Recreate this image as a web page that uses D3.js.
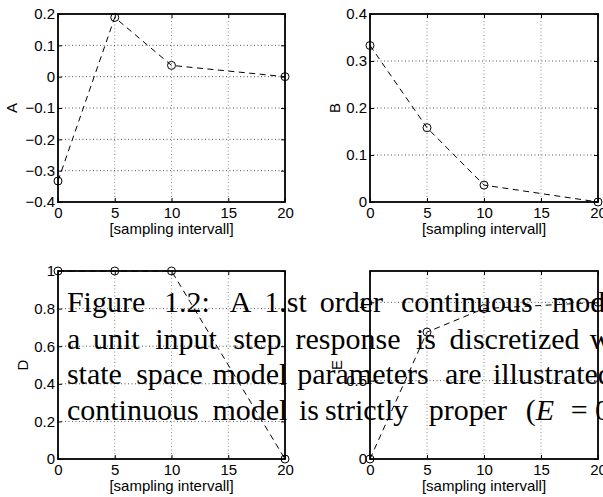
<!DOCTYPE html>
<html>
<head>
<meta charset="utf-8">
<script src="https://cdn.jsdelivr.net/npm/d3@7"></script>
<style>
  html, body { margin: 0; padding: 0; background: #fff; overflow: hidden; }
  svg { display: block; }
</style>
</head>
<body>
<svg id="fig" width="603" height="497"></svg>
<script>
// Sampling intervals at which the continuous model was discretized
const samplingInterval = [0, 5, 10, 20];
const xTickValues = [0, 5, 10, 15, 20];

// Discrete state space parameters for each sampling interval
const valuesA = [-0.333, 0.189, 0.036, 0];
const valuesB = [0.333, 0.158, 0.036, 0];
const valuesD = [1, 1, 1, 0];
const valuesE = [0, 0.81, 0.96, 1.0];

// Y tick values for the four panels
const yTicksA = [-0.4, -0.3, -0.2, -0.1, 0, 0.1, 0.2];
const yTicksB = [0, 0.1, 0.2, 0.3, 0.4];
const yTicksD = [0, 0.2, 0.4, 0.6, 0.8, 1];
const yTicksE = [0, 0.5, 1];

const xLabel = "[sampling intervall]";

// Caption text, one entry per typeset line
const captionLines = [
  "Figure 1.2:  A 1.st order continuous model",
  "a unit input step response is discretized with",
  "state space model parameters are illustrated",
  "continuous model is strictly proper (E = 0)."
];

const svg = d3.select("#fig");
const sansFont = "'Liberation Sans', Arial, Helvetica, sans-serif";
const serifFont = "'Liberation Serif', 'Times New Roman', serif";
const tickFontSize = 15;

const fmt = v => (v < 0 ? "\u2212" : "") + String(+Math.abs(v).toFixed(2));

const panels = [
  { name: "A", values: valuesA, yTicks: yTicksA, yDomain: [-0.4, 0.2], left: 58,  top: 14,  w: 227, yLabelX: 12 },
  { name: "B", values: valuesB, yTicks: yTicksB, yDomain: [0, 0.4],    left: 370, top: 14,  w: 228, yLabelX: 335 },
  { name: "D", values: valuesD, yTicks: yTicksD, yDomain: [0, 1],      left: 58,  top: 271, w: 227, yLabelX: 23 },
  { name: "E", values: valuesE, yTicks: yTicksE, yDomain: [0, 1.2],    left: 370, top: 271, w: 228, yLabelX: 337 }
];
const plotH = 188;

panels.forEach(p => {
  const x = d3.scaleLinear().domain([0, 20]).range([0, p.w]);
  const y = d3.scaleLinear().domain(p.yDomain).range([plotH, 0]);
  const g = svg.append("g").attr("transform", `translate(${p.left},${p.top})`);

  // dotted grid
  g.append("g").selectAll("line")
    .data(xTickValues.filter(v => v > 0 && v < 20))
    .join("line")
    .attr("x1", d => x(d)).attr("x2", d => x(d))
    .attr("y1", 0).attr("y2", plotH)
    .attr("stroke", "#8a8a8a").attr("stroke-width", 1)
    .attr("stroke-dasharray", "1,2.5");
  g.append("g").selectAll("line")
    .data(p.yTicks.filter(v => y(v) > 1 && y(v) < plotH - 1))
    .join("line")
    .attr("x1", 0).attr("x2", p.w)
    .attr("y1", d => y(d)).attr("y2", d => y(d))
    .attr("stroke", "#555").attr("stroke-width", 1)
    .attr("stroke-dasharray", "1,2.5");

  // axes with inward ticks (MATLAB style box)
  const styleAxis = sel => {
    sel.select(".domain").remove();
    sel.selectAll(".tick line").attr("stroke", "#000");
    sel.selectAll("text").attr("font-family", sansFont)
      .attr("font-size", tickFontSize).attr("fill", "#000");
  };
  g.append("g").attr("transform", `translate(0,${plotH})`)
    .call(d3.axisBottom(x).tickValues(xTickValues).tickFormat(fmt)
      .tickSizeInner(-4).tickSizeOuter(0).tickPadding(5))
    .call(styleAxis);
  g.append("g")
    .call(d3.axisTop(x).tickValues(xTickValues).tickFormat("")
      .tickSizeInner(-4).tickSizeOuter(0))
    .call(styleAxis);
  g.append("g")
    .call(d3.axisLeft(y).tickValues(p.yTicks).tickFormat(fmt)
      .tickSizeInner(-4).tickSizeOuter(0).tickPadding(3))
    .call(styleAxis);
  g.append("g").attr("transform", `translate(${p.w},0)`)
    .call(d3.axisRight(y).tickValues(p.yTicks).tickFormat("")
      .tickSizeInner(-4).tickSizeOuter(0))
    .call(styleAxis);

  // box
  g.append("rect").attr("x", 0).attr("y", 0)
    .attr("width", p.w).attr("height", plotH)
    .attr("fill", "none").attr("stroke", "#000").attr("stroke-width", 1.8);

  // dashed parameter curve with circle markers
  const pts = samplingInterval.map((t, i) => [t, p.values[i]]);
  g.append("path")
    .attr("d", d3.line().x(d => x(d[0])).y(d => y(d[1]))(pts))
    .attr("fill", "none").attr("stroke", "#000").attr("stroke-width", 1)
    .attr("stroke-dasharray", "6,4.5");
  g.append("g").selectAll("circle")
    .data(pts).join("circle")
    .attr("cx", d => x(d[0])).attr("cy", d => y(d[1])).attr("r", 4)
    .attr("fill", "none").attr("stroke", "#000").attr("stroke-width", 1);

  // axis titles
  g.append("text")
    .attr("x", p.w / 2).attr("y", plotH + 32)
    .attr("text-anchor", "middle")
    .attr("font-family", sansFont).attr("font-size", tickFontSize)
    .text(xLabel);
  svg.append("text")
    .attr("transform", `translate(${p.yLabelX},${p.top + plotH / 2}) rotate(-90)`)
    .attr("text-anchor", "middle").attr("dy", "0.35em")
    .attr("font-family", sansFont).attr("font-size", tickFontSize)
    .text(p.name);
});

// caption typeset over the figure
const captionBaselines = [312, 349, 384, 420];
const captionWordX = [
  [66.9, 163.9, 229.7, 264.3, 319.7, 401, 552],
  [66.9, 92.9, 155.2, 233.2, 295.5, 416, 449.6, 589.8],
  [66.9, 136.2, 212.4, 297.2, 445, 492.9],
  [66.9, 212.4, 299, 324.9, 428.8, 525.8, 570.8, 595]
];
captionLines.forEach((line, li) => {
  const words = line.split(/\s+/);
  const t = svg.append("text")
    .attr("y", captionBaselines[li])
    .attr("font-family", serifFont).attr("font-size", 30)
    .attr("fill", "#000");
  words.forEach((w, wi) => {
    const xPos = captionWordX[li][wi];
    if (w === "(E") {
      t.append("tspan").attr("x", xPos).text("(");
      t.append("tspan").attr("font-style", "italic").text("E");
    } else {
      t.append("tspan").attr("x", xPos).text(w);
    }
  });
});
</script>
</body>
</html>
